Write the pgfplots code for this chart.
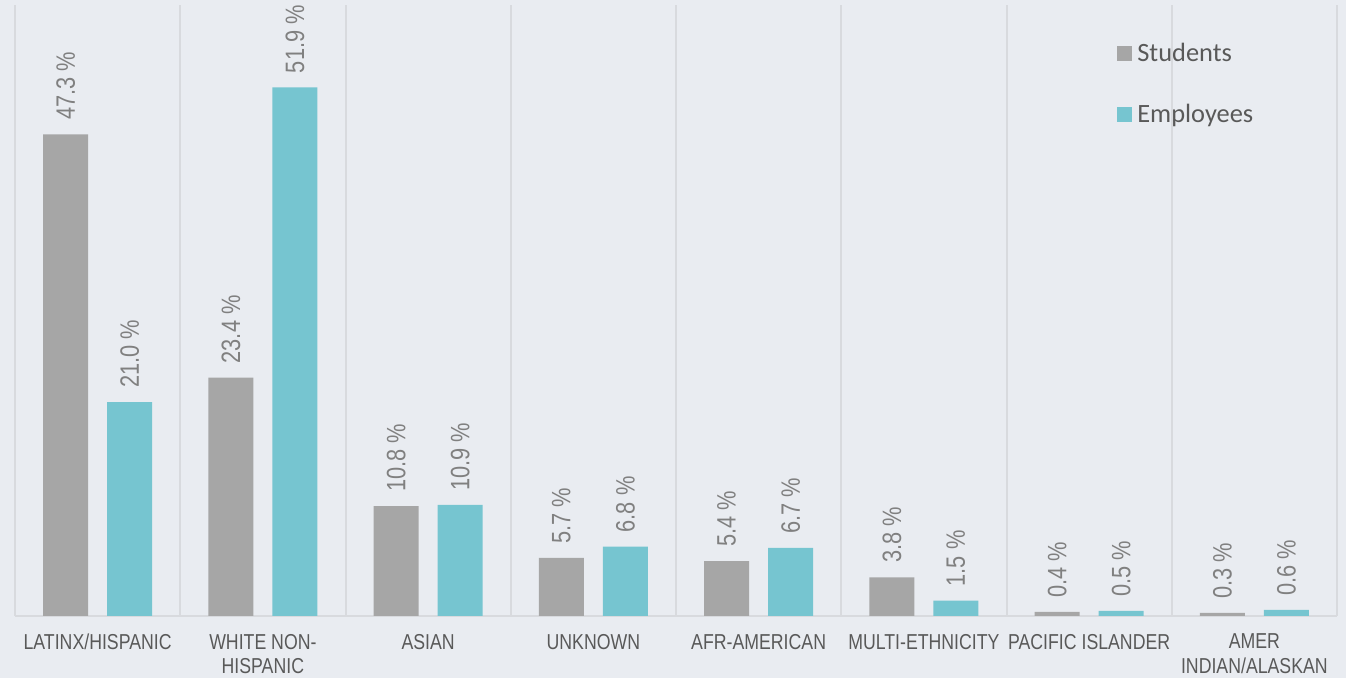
\documentclass[border=0pt]{standalone}
\usepackage{pgfplots}
\pgfplotsset{compat=1.18}
\usepackage{fontspec}
\setmainfont{Liberation Sans}
\newfontfamily\narrowfont[FakeStretch=0.82]{Liberation Sans}
\newfontfamily\legfont{Carlito}
\usetikzlibrary{backgrounds}
\definecolor{bgc}{RGB}{233,236,241}
\definecolor{gridc}{RGB}{216,218,222}
\definecolor{stud}{RGB}{166,166,166}
\definecolor{emp}{RGB}{118,197,208}
\definecolor{txt}{RGB}{89,89,89}
\definecolor{vtxt}{RGB}{128,128,128}
\begin{document}
\begin{tikzpicture}
\begin{axis}[
 scale only axis, width=661pt, height=305.5pt,
 xmin=-0.5, xmax=7.5, ymin=0, ymax=60,
 ybar=9.5pt, bar width=22.5pt,
 axis x line*=bottom, axis y line=none,
 x axis line style={draw=gridc, line width=1pt, -},
 xtick={0,1,2,3,4,5,6,7},
 xticklabels={LATINX/HISPANIC, {WHITE NON-\\HISPANIC}, ASIAN, UNKNOWN, AFR-AMERICAN, MULTI-ETHNICITY, PACIFIC ISLANDER, {AMER\\INDIAN/ALASKAN}},
 xticklabel style={font=\narrowfont\fontsize{10.8}{12.2}\selectfont, text=txt, align=center, yshift=-5.5pt},
 major tick length=0pt,
 extra x ticks={-0.5,0.5,1.5,2.5,3.5,4.5,5.5,6.5,7.5},
 extra x tick labels={},
 extra x tick style={grid=major, major grid style={draw=gridc, line width=1pt}},
 nodes near coords={\pgfmathprintnumber[fixed,fixed zerofill,precision=1]{\pgfplotspointmeta}~\%},
 nodes near coords style={rotate=90, anchor=west, font=\narrowfont\fontsize{13.3}{14}\selectfont, text=vtxt, inner xsep=7pt},
 /pgf/number format/assume math mode=true,
 legend style={draw=none, fill=none, at={(0.829,0.952)}, anchor=north west, font=\legfont\fontsize{13.2}{14}\selectfont, text=txt, row sep=16pt, cells={anchor=west}, nodes={inner xsep=2.5pt}},
 legend image code/.code={\fill[#1] (0pt,-3.75pt) rectangle (7.5pt,3.75pt);},
]
\addplot[fill=stud, draw=none] coordinates {(0,47.3) (1,23.4) (2,10.8) (3,5.7) (4,5.4) (5,3.8) (6,0.4) (7,0.3)};
\addplot[fill=emp, draw=none] coordinates {(0,21.0) (1,51.9) (2,10.9) (3,6.8) (4,6.7) (5,1.5) (6,0.5) (7,0.6)};
\legend{Students, Employees}
\end{axis}
\begin{pgfonlayer}{background}
\fill[bgc] ([shift={(-7.5pt,-31pt)}]current axis.south west) rectangle ([shift={(4.5pt,2.5pt)}]current axis.north east);
\end{pgfonlayer}
\pgfresetboundingbox
\path ([shift={(-7.5pt,-31pt)}]current axis.south west) rectangle ([shift={(4.5pt,2.5pt)}]current axis.north east);
\end{tikzpicture}
\end{document}
